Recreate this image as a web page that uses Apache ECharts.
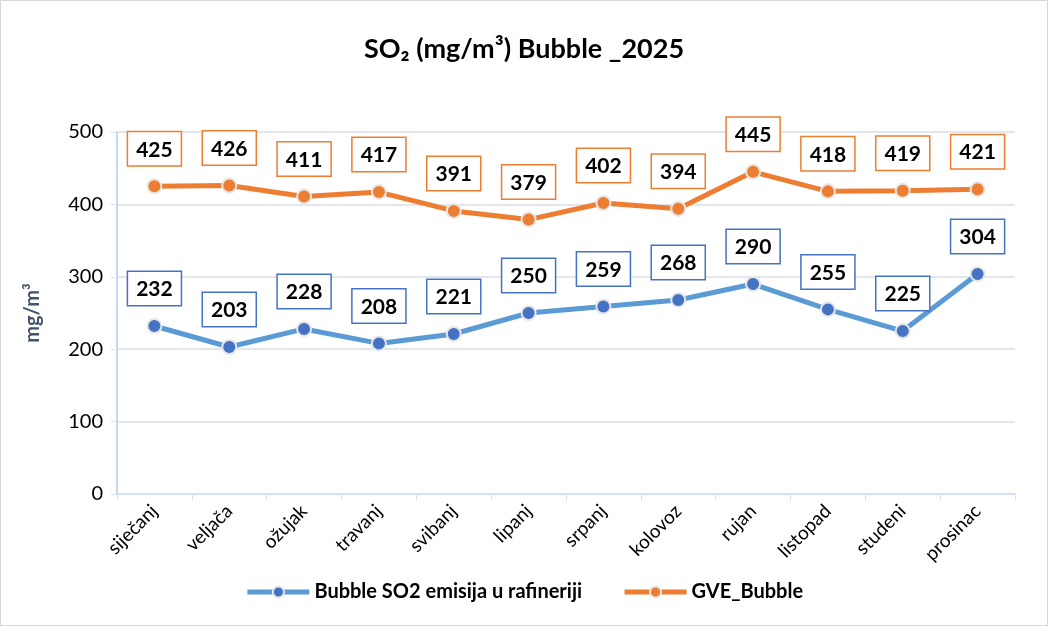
<!DOCTYPE html>
<html>
<head>
<meta charset="utf-8">
<style>
  html, body { margin: 0; padding: 0; background: #fff; }
  #chart { width: 1046px; height: 624px; border: 1px solid #d9d9d9; }
</style>
<script src="https://cdn.jsdelivr.net/npm/echarts@6/dist/echarts.min.js"></script>
</head>
<body>
<div id="chart"></div>
<script>
var months = ['siječanj', 'veljača', 'ožujak', 'travanj', 'svibanj', 'lipanj',
  'srpanj', 'kolovoz', 'rujan', 'listopad', 'studeni', 'prosinac'];
var bubbleSO2 = [232, 203, 228, 208, 221, 250, 259, 268, 290, 255, 225, 304];
var gveBubble = [425, 426, 411, 417, 391, 379, 402, 394, 445, 418, 419, 421];

var FONT = 'Lato, "Open Sans", sans-serif';

function lineSeries(name, data, lineColor, dotColor, boxColor) {
  return {
    name: name,
    type: 'line',
    data: data,
    symbol: 'circle',
    symbolSize: 14,
    lineStyle: { color: lineColor, width: 5 },
    itemStyle: { color: dotColor, borderColor: '#e6e6e6', borderWidth: 2 },
    label: {
      show: true,
      position: 'top',
      distance: 13,
      fontFamily: FONT,
      fontWeight: 'bold',
      fontSize: 21,
      color: '#000',
      backgroundColor: '#fff',
      borderColor: boxColor,
      borderWidth: 1.5,
      padding: [7, 8, 5, 8]
    },
    z: 3
  };
}

var chart = echarts.init(document.getElementById('chart'), null, { renderer: 'canvas' });
chart.setOption({
  animation: false,
  textStyle: { fontFamily: FONT },
  title: {
    text: 'SO₂ (mg/m³) Bubble _2025',
    left: 'center',
    top: 30,
    textStyle: { fontFamily: FONT, fontWeight: 'bold', fontSize: 27, color: '#000' }
  },
  grid: { left: 116, right: 32, top: 131, bottom: 131, containLabel: false },
  legend: {
    bottom: 18,
    itemWidth: 62,
    itemHeight: 14,
    itemGap: 40,
    lineStyle: { width: 5 },
    textStyle: { fontFamily: FONT, fontWeight: 'bold', fontSize: 20, color: '#000' },
    data: ['Bubble SO2 emisija u rafineriji', 'GVE_Bubble']
  },
  xAxis: {
    type: 'category',
    data: months,
    boundaryGap: true,
    axisLine: { lineStyle: { color: '#d5e0f0', width: 2 } },
    axisTick: { show: true, alignWithLabel: false, length: 6, lineStyle: { color: '#d5e0f0' } },
    axisLabel: { rotate: 45, fontSize: 19, color: '#000', margin: 14, interval: 0 }
  },
  yAxis: {
    type: 'value',
    min: 0,
    max: 500,
    interval: 100,
    name: 'mg/m³',
    nameLocation: 'middle',
    nameGap: 74,
    nameTextStyle: { fontFamily: FONT, fontWeight: 'bold', fontSize: 20, color: '#44546a' },
    axisLine: { show: true, lineStyle: { color: '#c6d6ee', width: 2 } },
    axisTick: { show: true, length: 6, lineStyle: { color: '#d5e0f0' } },
    axisLabel: { fontSize: 20, color: '#000', margin: 14 },
    splitLine: { lineStyle: { color: '#e3e6ea', width: 2 } }
  },
  series: [
    lineSeries('Bubble SO2 emisija u rafineriji', bubbleSO2, '#5b9bd5', '#4472c4', '#4472c4'),
    lineSeries('GVE_Bubble', gveBubble, '#ed7d31', '#ed7d31', '#ed7d31')
  ]
});
</script>
</body>
</html>
